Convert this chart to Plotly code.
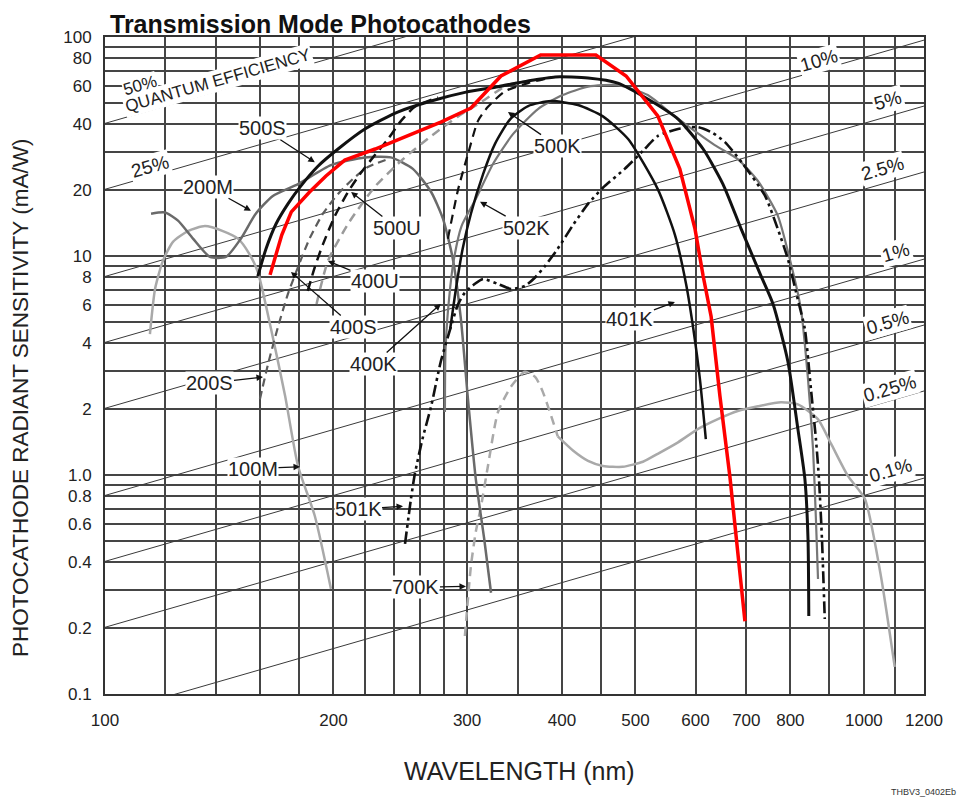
import numpy as np
import plotly.graph_objects as go

# ---------------- data (wavelength nm, sensitivity mA/W) ----------------
qe_levels = [50, 25, 10, 5, 2.5, 1, 0.5, 0.25, 0.1]
qe_wl = [100, 1200]

m100_wl = [114.6, 116.4, 119.2, 122.9, 128.6, 135.4, 143, 149.7, 155, 159, 165.5, 172.7, 179.6, 189, 198.5]
m100_s = [4.4, 7.07, 9.5, 11.6, 13.0, 13.7, 13.0, 12.0, 10.2, 8.45, 4.64, 2.3, 1.1, 0.65, 0.302]

m200_wl = [115, 120, 124.8, 130.6, 137.5, 144.3, 151, 158, 166.4, 179.6, 198.5, 220, 238, 254.5, 269, 278.8, 287.3, 294.4, 300.8, 308, 316, 322.6]
m200_s = [15.6, 15.8, 14.5, 12, 9.9, 9.9, 12, 15.6, 18.8, 21.3, 26, 28.2, 28.2, 25, 19.6, 14.8, 9.7, 5.16, 2.22, 0.96, 0.51, 0.29]

s200_wl = [160, 164, 169, 174.2, 179.6, 186, 193.7, 202.8, 212.2, 222, 236]
s200_s = [2.22, 3.21, 4.74, 6.71, 8.9, 12, 15.6, 19.2, 22.5, 25.5, 27.7]

s500_wl = [159, 163, 168, 174.2, 181, 190.8, 202.8, 220, 243, 269, 299, 329.5, 361, 392, 433, 474, 519, 569, 614, 652, 689, 732, 759, 794, 818.5, 836, 844, 846]
s500_s = [8.1, 10.8, 14, 17.3, 20.8, 25.7, 30.8, 38, 45.4, 51, 56, 59.3, 63, 65.7, 65, 61.6, 52.1, 42.2, 30.8, 21.3, 13.3, 8.1, 6.04, 3.3, 1.62, 0.96, 0.51, 0.227]

u500_wl = [185, 189, 193.7, 201, 209, 216.8, 225.5, 236, 245.5, 256, 274.6]
u500_s = [6.93, 8.9, 11.3, 15.3, 19.6, 23.7, 28.2, 34.2, 41.4, 48, 53]

u400_wl = [190, 196.7, 209, 227, 247, 269, 292, 313, 339.6, 361]
u400_s = [6.04, 9.5, 14, 20.8, 27.7, 35.3, 43.4, 50.4, 60.5, 63]

k400_wl = [283, 292, 300.8, 310, 319.6, 336.5, 361, 389]
k400_s = [12, 20.2, 29.2, 41.3, 48, 56.5, 61.6, 65.7]

k401_wl = [285, 290, 296, 303.5, 315, 326.5, 342, 361, 387, 420, 453, 489, 535, 563.6, 583, 596, 608, 619]
k401_s = [4.64, 7.07, 10.8, 15.6, 23.7, 32.5, 42.2, 48.4, 51, 48.9, 43.4, 34.2, 20.2, 12.5, 7.45, 4.64, 2.74, 1.46]

k502_wl = [280.5, 281, 284, 288, 295, 308, 324.5, 345, 372, 401, 433, 474, 519, 563.6, 636, 682, 725, 770, 801, 826, 844, 857, 864.5, 870]
k502_s = [1.94, 3.76, 6.36, 9.5, 13.7, 18.2, 26.3, 36.1, 46.9, 54.3, 59.3, 60.3, 54.3, 43.4, 32.1, 27.7, 22, 15.3, 9.3, 5.73, 2.74, 1.31, 0.63, 0.335]

k501_wl = [248.5, 253, 256, 262, 269, 277, 285, 292, 298, 307, 315, 329.5, 343, 357.5, 369, 380, 395, 414, 433, 453, 484, 511.5, 535, 569, 604, 632, 656, 693, 741, 770, 794, 818, 836, 851.5, 864.5, 872.5, 880.5, 888]
k501_s = [0.485, 0.777, 1.01, 1.46, 2.06, 3.3, 4.64, 6.04, 6.8, 7.45, 7.85, 7.45, 7.07, 7.3, 8.0, 9.0, 10.8, 13.9, 17.3, 20.5, 25, 30.2, 35.3, 38, 38.8, 36.5, 33.1, 26.3, 18.8, 13.3, 9.7, 6.36, 4.64, 2.47, 1.46, 0.96, 0.51, 0.22]

k700a_wl = [298, 300.8, 303.5, 308, 313, 319.6, 329.5, 343, 357.5, 369, 377.6, 387, 395]
k700a_s = [0.184, 0.272, 0.384, 0.55, 0.72, 1.1, 1.94, 2.54, 2.96, 2.8, 2.39, 1.87, 1.5]
k700b_wl = [395, 414, 433, 453, 481, 511.5, 535, 569, 604, 642, 682, 725, 777.5, 818.5, 869.7, 905, 952.6, 1003, 1053, 1098]
k700b_s = [1.5, 1.29, 1.16, 1.1, 1.09, 1.15, 1.25, 1.41, 1.62, 1.80, 1.96, 2.06, 2.15, 2.1, 1.8, 1.39, 0.99, 0.777, 0.345, 0.133]

red_wl = [165, 171, 176, 186, 195.5, 207, 227, 253, 277, 303.5, 332.5, 375, 443.5, 486, 535, 572, 599, 614, 629, 646, 666, 697]
red_s = [8.2, 12.5, 15.9, 19.6, 23.2, 27.4, 30.8, 36.1, 40.9, 47.4, 66.4, 82.7, 82.7, 66.4, 43.6, 25, 13.3, 8.1, 5.3, 2.3, 0.98, 0.215]

x_grid = [100, 120, 140, 160, 180, 200, 220, 240, 260, 280, 300, 350, 400, 450, 500, 600, 700, 800, 900, 1000, 1100, 1200]
x_labels = {100: "100", 200: "200", 300: "300", 400: "400", 500: "500", 600: "600", 700: "700", 800: "800", 1000: "1000", 1200: "1200"}
y_grid = [m * 10 ** e for e in (-1, 0, 1) for m in range(1, 10)] + [100]
y_labels = {0.1: "0.1", 0.2: "0.2", 0.4: "0.4", 0.6: "0.6", 0.8: "0.8", 1: "1.0", 2: "2", 4: "4", 6: "6", 8: "8",
            10: "10", 20: "20", 40: "40", 60: "60", 80: "80", 100: "100"}

# curve labels: text, arrow tip (nm, mA/W), text offset in px (ax, ay)
curve_labels = [
    ("500S", 189, 26.8, -52, -34),
    ("200M", 155.7, 16.1, -43, -24),
    ("500U", 211, 19.6, 46, 36),
    ("502K", 312, 17.7, 46, 26),
    ("500K", 339.6, 45.4, 50, 34),
    ("400U", 196.7, 9.5, 47, 20),
    ("400S", 175.8, 8.45, 63, 55),
    ("400K", 277, 6.04, -67, 60),
    ("200S", 161.5, 2.8, -53, 6),
    ("100M", 180.7, 1.09, -47, 2),
    ("501K", 247, 0.72, -45, 3),
    ("700K", 299, 0.31, -50, 1),
    ("401K", 563.6, 6.17, -45, 17),
]

# QE labels: text, QE level, wavelength on line, vertical shift px
qe_labels = [
    ("10%", 10, 872, 10), ("5%", 5, 1075, 16), ("2.5%", 2.5, 1059, 15), ("1%", 1, 1101, 15),
    ("0.5%", 0.5, 1075, 13), ("0.25%", 0.25, 1083, 12), ("0.1%", 0.1, 1083, 17), ("25%", 25, 114.6, 10),
]

# ---------------- figure ----------------
fig = go.Figure()
FONT = "Liberation Sans, Arial, sans-serif"

for q in qe_levels:
    fig.add_trace(go.Scatter(x=qe_wl, y=[q * w / 124.0 for w in qe_wl], mode="lines",
                             line=dict(color="#3a3a3a", width=1), hoverinfo="skip", showlegend=False))

def add(wl, s, color, width, dash="solid", name=""):
    fig.add_trace(go.Scatter(x=wl, y=s, mode="lines", name=name, showlegend=False,
                             line=dict(color=color, width=width, dash=dash, shape="spline", smoothing=0.6)))

add(m100_wl, m100_s, "#a9a9a9", 2.5, name="100M")
add(k700a_wl, k700a_s, "#a9a9a9", 2.5, "9px,6px", name="700K")
add(k700b_wl, k700b_s, "#a9a9a9", 2.5, name="700K")
add(m200_wl, m200_s, "#6a6a6a", 2.5, name="200M")
add(s200_wl, s200_s, "#5c5c5c", 2.2, "8px,5px", name="200S")
add(u400_wl, u400_s, "#9a9a9a", 2.5, "9px,6px", name="400U")
add(k502_wl, k502_s, "#777777", 2.2, name="502K")
add(k400_wl, k400_s, "#111111", 2.2, "9px,6px", name="400K")
add(u500_wl, u500_s, "#111111", 2.5, "10px,6px", name="500U")
add(k401_wl, k401_s, "#111111", 2.5, name="401K")
add(k501_wl, k501_s, "#111111", 2.6, "12px,4px,3px,4px,3px,4px", name="501K")
add(s500_wl, s500_s, "#111111", 3, name="500S")

fig.add_trace(go.Scatter(x=red_wl, y=red_s, mode="lines", showlegend=False,
                         line=dict(color="#ff0000", width=3.5)))

for txt, wl, s, ax, ay in curve_labels:
    fig.add_annotation(x=np.log10(wl), y=np.log10(s), xref="x", yref="y", text=txt, showarrow=True,
                       ax=ax, ay=ay, arrowhead=2, arrowsize=1, arrowwidth=1.3, arrowcolor="#111",
                       font=dict(family=FONT, size=20, color="#222"), bgcolor="white", borderpad=0)

for txt, q, wl, sh in qe_labels:
    fig.add_annotation(x=np.log10(wl), y=np.log10(q * wl / 124.0), xref="x", yref="y", text=txt,
                       showarrow=False, textangle=-16, yshift=sh, bgcolor="white",
                       font=dict(family=FONT, size=19, color="#222"))
fig.add_annotation(x=np.log10(140.9), y=np.log10(50 * 140.9 / 124.0), xref="x", yref="y",
                   text="QUANTUM EFFICIENCY", showarrow=False, textangle=-16, yshift=10, bgcolor="white",
                   font=dict(family=FONT, size=17, color="#222"))
fig.add_annotation(x=np.log10(111.2), y=np.log10(50 * 111.2 / 124.0), xref="x", yref="y", text="50%",
                   showarrow=False, textangle=-16, yshift=28, bgcolor="white", borderpad=0,
                   font=dict(family=FONT, size=17, color="#222"))

fig.add_annotation(xref="paper", yref="paper", x=0.004, y=1 + 13 / 657, xanchor="left", yanchor="middle",
                   text="<b>Transmission Mode Photocathodes</b>", showarrow=False,
                   font=dict(family=FONT, size=25, color="#111"))
fig.add_annotation(xref="paper", yref="paper", x=0.5067, y=-0.117, xanchor="center", yanchor="middle",
                   text="WAVELENGTH (nm)", showarrow=False, font=dict(family=FONT, size=25, color="#222"))
fig.add_annotation(xref="paper", yref="paper", x=-0.1038, y=0.4505, xanchor="center", yanchor="middle",
                   text="PHOTOCATHODE RADIANT SENSITIVITY (mA/W)", textangle=-90, showarrow=False,
                   font=dict(family=FONT, size=22.5, color="#222"))
fig.add_annotation(xref="paper", yref="paper", x=1.0415, y=-0.149, xanchor="right", yanchor="middle",
                   text="THBV3_0402Eb", showarrow=False, font=dict(family=FONT, size=9, color="#333"))

fig.update_layout(
    width=954, height=793, margin=dict(l=97, r=38, t=29, b=107),
    paper_bgcolor="white", plot_bgcolor="white",
    xaxis=dict(type="log", range=[2, np.log10(1200)], tickvals=x_grid,
               ticktext=[x_labels.get(v, "") for v in x_grid], showgrid=True, gridcolor="#454545", gridwidth=1.5,
               showline=True, linecolor="#333", linewidth=2, mirror=True, ticks="outside", ticklen=10,
               tickcolor="rgba(0,0,0,0)", tickfont=dict(family=FONT, size=17, color="#222"), zeroline=False),
    yaxis=dict(type="log", range=[-1, 2], tickvals=y_grid,
               ticktext=[y_labels.get(round(v, 3), "") for v in y_grid], showgrid=True, gridcolor="#454545",
               gridwidth=1.5, showline=True, linecolor="#333", linewidth=2, mirror=True, ticks="outside",
               ticklen=8, tickcolor="rgba(0,0,0,0)", tickfont=dict(family=FONT, size=17, color="#222"),
               zeroline=False),
)

fig.write_html("out.html")
